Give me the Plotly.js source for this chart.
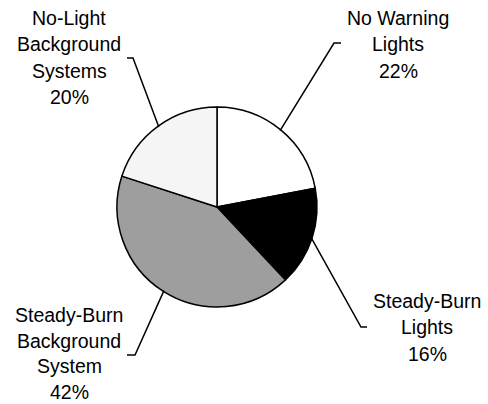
<!DOCTYPE html>
<html>
<head>
<meta charset="utf-8">
<script src="https://cdn.plot.ly/plotly-3.0.1.min.js"></script>
<style>html,body{margin:0;padding:0;background:#fff;}#chart{width:488px;height:404px;}</style>
</head>
<body>
<div id="chart"></div>
<script>
// Data
var categories = ["No Warning Lights", "Steady-Burn Lights", "Steady-Burn Background System", "No-Light Background Systems"];
var values = [22, 16, 42, 20];
var labelLines = [
  ["No Warning", "Lights"],
  ["Steady-Burn", "Lights"],
  ["Steady-Burn", "Background", "System"],
  ["No-Light", "Background", "Systems"]
];
var sliceColors = ["#ffffff", "#000000", "#9e9e9e", "#f5f5f5"];

// Layout (pixels)
var W = 488, H = 404;
var cx = 217, cy = 207, R = 100;
var labelCenters = [[398, 18], [427, 301], [69, 315], [69, 18]]; // x center, y of first line centre
var elbow = [[334, 43, 341], [361, 327, 367], [135, 355, 127], [133, 58, 127]];
var lineGaps = [26.3, 26.3, 25.6, 26.3];

function px(x){ return x / W; }
function py(y){ return 1 - y / H; }

var total = values.reduce(function(a,b){return a+b;}, 0);
var shapes = [], annotations = [];
var cum = 0;
for (var i = 0; i < values.length; i++) {
  var mid = (cum + values[i] / 2) / total * 2 * Math.PI;
  cum += values[i];
  var ex = cx + (R - 1) * Math.sin(mid), ey = cy - (R - 1) * Math.cos(mid);
  var e = elbow[i];
  shapes.push({
    type: "path", xref: "paper", yref: "paper",
    path: "M " + px(ex) + "," + py(ey) + " L " + px(e[0]) + "," + py(e[1]) + " L " + px(e[2]) + "," + py(e[1]),
    line: {color: "#000", width: 1.5}
  });
  var lines = labelLines[i].concat([Math.round(values[i] / total * 100) + "%"]);
  for (var j = 0; j < lines.length; j++) {
    annotations.push({
      xref: "paper", yref: "paper",
      x: px(labelCenters[i][0]), y: py(labelCenters[i][1] + j * lineGaps[i]),
      xanchor: "center", yanchor: "middle",
      text: lines[j], showarrow: false, borderpad: 0,
      font: {family: "Liberation Sans, Arial, sans-serif", size: 19.5, color: "#000"}
    });
  }
}

var trace = {
  type: "pie",
  labels: categories,
  values: values,
  sort: false,
  direction: "clockwise",
  rotation: 0,
  marker: {colors: sliceColors, line: {color: "#000", width: 1.5}},
  textinfo: "none",
  hoverinfo: "label+percent",
  showlegend: false,
  domain: {x: [px(cx - R), px(cx + R)], y: [py(cy + R), py(cy - R)]}
};

var layout = {
  width: W, height: H,
  margin: {l: 0, r: 0, t: 0, b: 0},
  paper_bgcolor: "#fff",
  showlegend: false,
  shapes: shapes,
  annotations: annotations
};

Plotly.newPlot("chart", [trace], layout, {displayModeBar: false, staticPlot: true});
</script>
</body>
</html>
